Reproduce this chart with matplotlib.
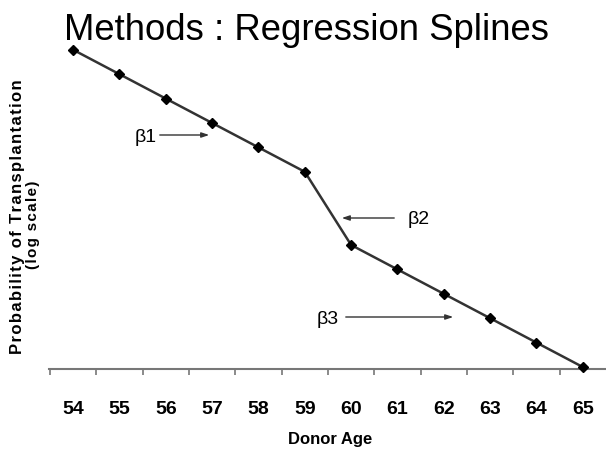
import matplotlib
matplotlib.use("Agg")
import matplotlib.pyplot as plt
from matplotlib.ticker import FixedLocator, NullFormatter

ages = [54, 55, 56, 57, 58, 59, 60, 61, 62, 63, 64, 65]
log_prob = [14, 13, 12, 11, 10, 9, 6, 5, 4, 3, 2, 1]
tick_labels = [str(a) for a in ages]
annotations = [("β1", 57), ("β2", 59.6), ("β3", 62)]

W, H = 606, 452
fig = plt.figure(figsize=(W / 100, H / 100), dpi=100)
ax = fig.add_axes([49 / W, (H - 370) / H, (W - 49) / W, 370 / H])
ax.set_xlim(53.48, 65.5)
ax.set_ylim(0.92, 16.08)

ax.plot(ages, log_prob, color="#333333", lw=1.8, marker="D", ms=5.5,
        mfc="black", mec="black", zorder=3, clip_on=False)

for s in ["top", "right", "left"]:
    ax.spines[s].set_visible(False)
ax.spines["bottom"].set_color("#777777")
ax.spines["bottom"].set_linewidth(1.5)
ax.set_yticks([])
ax.xaxis.set_major_locator(FixedLocator([a + 0.5 for a in ages[:-1]] + [53.5]))
ax.xaxis.set_major_formatter(NullFormatter())
ax.xaxis.set_minor_locator(FixedLocator(ages))
ax.xaxis.set_minor_formatter(plt.FixedFormatter(tick_labels))
ax.tick_params(axis="x", which="major", length=4, width=1.2, color="#777777")
ax.tick_params(axis="x", which="minor", length=0, pad=22)
narrow = ["Liberation Sans Narrow", "Liberation Sans", "DejaVu Sans"]
for lab in ax.xaxis.get_minorticklabels():
    lab.set_fontfamily(narrow)
    lab.set_fontweight("bold")
    lab.set_fontsize(14)

fig.text(330 / W, 1 - 440 / H, "Donor Age", ha="center", va="center",
         fontsize=12, fontweight="bold", family=narrow)

fig.text(306 / W, 1 - 30 / H, "Methods : Regression Splines", ha="center",
         va="center", fontsize=26.3, family=["Liberation Sans", "DejaVu Sans"])

def spaced(s):
    return "\u200a".join(s)

ylab_font = dict(fontweight="bold",
                 family=["Liberation Sans", "DejaVu Sans"], rotation=90,
                 ha="center", va="center")
fig.text(17.5 / W, 1 - 217 / H, spaced("Probability of Transplantation"),
         fontsize=12, **ylab_font)
fig.text(33 / W, 1 - 225 / H, spaced("(log scale)"), fontsize=11, **ylab_font)

def px(x, y):
    return (x / W, 1 - y / H)

arrow = dict(arrowstyle="-|>,head_length=0.45,head_width=0.15", color="#333333", lw=1.0)
beta_font = dict(fontsize=14, va="center", ha="left",
                 family=["Liberation Sans", "DejaVu Sans"])
ax.annotate("", xy=px(212, 136), xytext=px(157, 136), arrowprops=arrow,
            xycoords="figure fraction", textcoords="figure fraction")
fig.text(*px(135, 138), annotations[0][0], **beta_font)
ax.annotate("", xy=px(339, 219), xytext=px(397, 219), arrowprops=arrow,
            xycoords="figure fraction", textcoords="figure fraction")
fig.text(*px(408, 220), annotations[1][0], **beta_font)
ax.annotate("", xy=px(456, 318), xytext=px(343, 318), arrowprops=arrow,
            xycoords="figure fraction", textcoords="figure fraction")
fig.text(*px(317, 320), annotations[2][0], **beta_font)

fig.savefig("out.png", dpi=100)
